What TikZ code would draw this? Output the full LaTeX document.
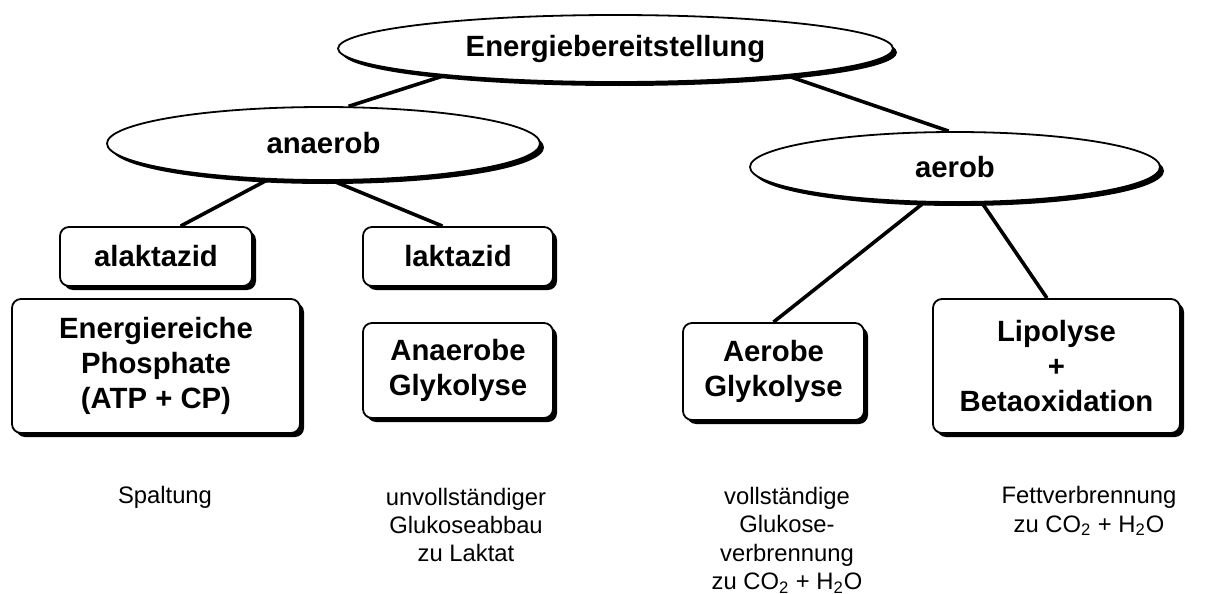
\documentclass[tikz,border=0pt]{standalone}
\usepackage{fontspec}
\setmainfont{Liberation Sans}
\usetikzlibrary{shapes.geometric}
\usetikzlibrary{shadows}

\newcommand{\boldlbl}{\fontsize{14.65}{17.5}\selectfont\bfseries}
\newcommand{\plainlbl}{\fontsize{11.9}{14.2}\selectfont}

\tikzset{
  blackshadow/.style={drop shadow={shadow xshift=2pt, shadow yshift=-2pt, fill=black, opacity=1}},
  blob/.style={ellipse, draw, line width=0.9pt, fill=white, inner sep=0pt, blackshadow, font=\boldlbl},
  stage/.style={rectangle, rounded corners=4.5pt, draw, line width=0.9pt, fill=white, inner sep=0pt, align=center, blackshadow, font=\boldlbl},
  note/.style={align=center, inner sep=0pt, font=\plainlbl},
  link/.style={line width=1.8pt}
}

\begin{document}
\begin{tikzpicture}[x=0.5pt, y=-0.5pt]
  \useasboundingbox (0,0) rectangle (1212,594);

  % Draw the ellipses
  \node[blob, minimum width=277.5pt, minimum height=33.5pt] (energy) at (615.5,48.5) {Energiebereitstellung};
  \node[blob, minimum width=216.5pt, minimum height=36.5pt] (anaerob) at (323.5,143.5) {anaerob};
  \node[blob, minimum width=205pt, minimum height=35pt] (aerob) at (955,167) {aerob};

  % Draw the small boxes
  \node[stage, minimum width=96pt, minimum height=29.5pt] (alaktazid) at (156,256.5) {alaktazid};
  \node[stage, minimum width=95pt, minimum height=29.5pt] (laktazid) at (458,256.5) {laktazid};

  % Draw the big boxes
  \node[stage, minimum width=144pt, minimum height=67pt] (phosphate) at (156,366) {Energiereiche\\Phosphate\\(ATP + CP)};
  \node[stage, minimum width=95pt, minimum height=47.5pt] (anglyk) at (458,370.5) {Anaerobe\\Glykolyse};
  \node[stage, minimum width=90.5pt, minimum height=48.5pt] (aeglyk) at (773.5,371.5) {Aerobe\\Glykolyse};
  \node[stage, minimum width=123.5pt, minimum height=67pt] (lipolyse) at (1056.5,366) {Lipolyse\\+\\Betaoxidation};

  % Draw the connecting lines
  \draw[link] (energy.189.7) -- (anaerob.56);
  \draw[link] (energy.351.7) -- (aerob.100);
  \draw[link] (anaerob.213.5) -- (alaktazid.51);
  \draw[link] (anaerob.284.6) -- (laktazid.117);
  \draw[link] (aerob.229) -- (aeglyk.90);
  \draw[link] (aerob.307.9) -- (lipolyse.98);

  % Label the processes
  \node[note] (spaltung) at (165,497) {Spaltung};
  \node[note] (abbau) at (466,525) {unvollständiger\\Glukoseabbau\\zu Laktat};
  \node[note] (verbrennung) at (787,540) {vollständige\\Glukose-\\verbrennung\\zu CO\textsubscript{2} + H\textsubscript{2}O};
  \node[note] (fett) at (1089,511) {Fettverbrennung\\zu CO\textsubscript{2} + H\textsubscript{2}O};
\end{tikzpicture}
\end{document}
